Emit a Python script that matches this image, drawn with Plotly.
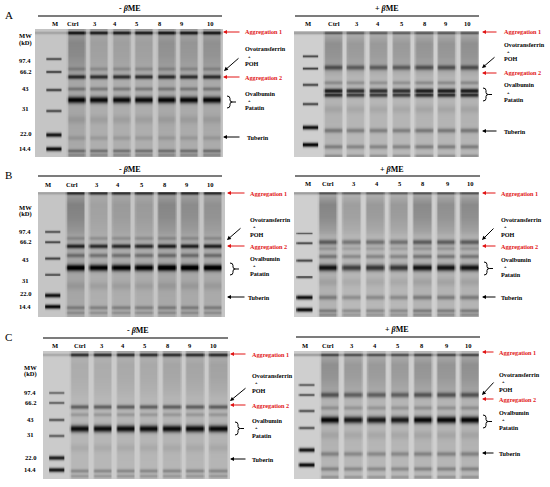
import numpy as np
import plotly.graph_objects as go

W, H = 550, 487
FONT = "Liberation Serif"

# ---------------- data ----------------
LANES = ["M", "Ctrl", "3", "4", "5", "8", "9", "10"]
MW_LABELS = ["97.4", "66.2", "43", "31", "22.0", "14.4"]
PANEL_LETTERS = ["A", "B", "C"]
BAND_NAMES = ["Aggregation 1", "Ovotransferrin", "+", "POH", "Aggregation 2",
              "Ovalbumin", "+", "Patatin", "Tuberin"]

# marker band relative migration (0 = top of gel, 1 = bottom)
MARKER_W = [0.007, 0.007, 0.008, 0.008, 0.012, 0.012]
AL_MARKER_RF = [0.227, 0.328, 0.469, 0.633, 0.820, 0.930]
AL_MARKER_DARK = [120, 135, 130, 120, 175, 185]
AR_MARKER_RF = [0.198, 0.294, 0.421, 0.579, 0.762, 0.897]
AR_MARKER_DARK = [130, 140, 130, 130, 190, 200]
BL_MARKER_RF = [0.312, 0.400, 0.528, 0.656, 0.824, 0.912]
BL_MARKER_DARK = [115, 125, 125, 115, 180, 190]
BR_MARKER_RF = [0.328, 0.408, 0.544, 0.680, 0.840, 0.936]
BR_MARKER_DARK = [130, 130, 130, 130, 190, 195]
CL_MARKER_RF = [0.320, 0.398, 0.531, 0.656, 0.828, 0.922]
CL_MARKER_DARK = [95, 105, 115, 105, 170, 180]
CR_MARKER_RF = [0.258, 0.336, 0.461, 0.594, 0.766, 0.883]
CR_MARKER_DARK = [110, 120, 120, 120, 185, 195]

# sample bands: position, darkness, thickness
AL_BAND_RF = [0.023, 0.305, 0.367, 0.461, 0.547, 0.700, 0.844, 0.945, 0.977]
AL_BAND_DARK = [110, 30, 125, 50, 165, 15, 20, 60, 35]
AL_BAND_W = [0.011, 0.011, 0.012, 0.011, 0.018, 0.022, 0.013, 0.010, 0.009]
AL_LANE_SMEAR = [45, 20, 20, 20, 35, 30, 35]
AL_LANE_GAIN = [1.0, 1.0, 1.0, 1.0, 1.0, 1.0, 1.0]

AR_BAND_RF = [0.016, 0.286, 0.405, 0.468, 0.508, 0.620, 0.786, 0.913, 0.984]
AR_BAND_DARK = [45, 85, 40, 150, 135, 15, 60, 55, 40]
AR_BAND_W = [0.008, 0.014, 0.011, 0.013, 0.013, 0.022, 0.013, 0.012, 0.009]
AR_LANE_SMEAR = [50, 40, 40, 40, 45, 45, 50]
AR_LANE_GAIN = [1.0, 0.9, 0.9, 0.9, 1.0, 1.0, 1.0]

BL_BAND_RF = [0.010, 0.370, 0.432, 0.504, 0.600, 0.750, 0.920, 0.960]
BL_BAND_DARK = [90, 30, 130, 60, 175, 15, 45, 30]
BL_BAND_W = [0.010, 0.011, 0.012, 0.012, 0.018, 0.022, 0.011, 0.009]
BL_LANE_SMEAR = [50, 18, 25, 25, 45, 40, 35]
BL_LANE_GAIN = [1.0, 1.0, 1.0, 1.0, 1.05, 1.05, 1.05]

BR_BAND_RF = [0.010, 0.400, 0.450, 0.512, 0.600, 0.720, 0.840, 0.944, 0.976]
BR_BAND_DARK = [50, 85, 30, 60, 160, 15, 55, 55, 40]
BR_BAND_W = [0.008, 0.014, 0.011, 0.012, 0.018, 0.022, 0.013, 0.011, 0.009]
BR_LANE_SMEAR = [60, 35, 40, 40, 55, 50, 55]
BR_LANE_GAIN = [1.0, 0.75, 0.8, 0.8, 1.0, 1.0, 1.0]

CL_BAND_RF = [0.023, 0.430, 0.490, 0.600, 0.750, 0.930, 0.970]
CL_BAND_DARK = [100, 85, 30, 170, 12, 45, 30]
CL_BAND_W = [0.011, 0.012, 0.011, 0.019, 0.022, 0.011, 0.009]
CL_LANE_SMEAR = [15, 15, 18, 18, 22, 22, 25]
CL_LANE_GAIN = [1.0, 1.0, 1.0, 1.0, 1.0, 1.0, 1.0]

CR_BAND_RF = [0.023, 0.336, 0.4375, 0.531, 0.650, 0.797, 0.914, 0.977]
CR_BAND_DARK = [55, 90, 35, 175, 15, 50, 50, 35]
CR_BAND_W = [0.009, 0.015, 0.012, 0.019, 0.022, 0.013, 0.012, 0.009]
CR_LANE_SMEAR = [50, 40, 40, 40, 45, 45, 50]
CR_LANE_GAIN = [1.0, 0.9, 0.9, 0.9, 1.0, 1.0, 1.0]

# background smear along each lane
SMEAR_RF = [0.0, 0.04, 0.10, 0.20, 0.30, 0.36, 0.50, 0.70, 1.0]
SMEAR_LEVEL = [0.0, 0.6, 1.0, 0.9, 0.6, 0.3, 0.25, 0.3, 0.2]


def gel_image(marker_rf, marker_dark, band_rf, band_dark, band_w,
              lane_smear, lane_gain, bg, base, topline, xr):
    xs = np.arange(xr[0], xr[1] + 1e-9, 0.05)
    ys = (np.arange(128) + 0.5) / 128
    X, Y = np.meshgrid(xs, ys)
    D = np.full(X.shape, float(bg))
    D += topline[1] * np.exp(-0.5 * ((Y - topline[0]) / 0.008) ** 2)
    m0 = np.clip((0.36 - np.abs(X)) / 0.06, 0, 1)
    mk = np.zeros_like(D)
    for r, d, w in zip(marker_rf, marker_dark, MARKER_W):
        mk += d * np.exp(-0.5 * ((Y - r) / w) ** 2)
    D += m0 * mk
    smear = np.interp(Y, SMEAR_RF, SMEAR_LEVEL)
    for j in range(7):
        c = j + 1
        m = np.clip((0.44 - np.abs(X - c)) / 0.10, 0, 1)
        bands = np.zeros_like(D)
        for r, d, w in zip(band_rf, band_dark, band_w):
            bands += d * np.exp(-0.5 * ((Y - r) / w) ** 2)
        D += m * (base + lane_smear[j] * smear + lane_gain[j] * bands)
    return xs, ys, np.clip(D, 0, 255).round().astype(int)


# ---------------- layout (pixel geometry) ----------------
GELS = [
    dict(rect=(35, 29, 223, 157), xr=(-0.82, 7.53),
         d=(AL_MARKER_RF, AL_MARKER_DARK, AL_BAND_RF, AL_BAND_DARK, AL_BAND_W, AL_LANE_SMEAR, AL_LANE_GAIN),
         bg=58, base=18, top=(0.023, 35)),
    dict(rect=(294, 31, 479, 157), xr=(-0.70, 7.44),
         d=(AR_MARKER_RF, AR_MARKER_DARK, AR_BAND_RF, AR_BAND_DARK, AR_BAND_W, AR_LANE_SMEAR, AR_LANE_GAIN),
         bg=48, base=14, top=(0.016, 50)),
    dict(rect=(38, 192, 225, 317), xr=(-0.61, 7.55),
         d=(BL_MARKER_RF, BL_MARKER_DARK, BL_BAND_RF, BL_BAND_DARK, BL_BAND_W, BL_LANE_SMEAR, BL_LANE_GAIN),
         bg=58, base=18, top=(0.010, 35)),
    dict(rect=(294, 192, 479, 317), xr=(-0.42, 7.42),
         d=(BR_MARKER_RF, BR_MARKER_DARK, BR_BAND_RF, BR_BAND_DARK, BR_BAND_W, BR_LANE_SMEAR, BR_LANE_GAIN),
         bg=48, base=14, top=(0.010, 50)),
    dict(rect=(43, 351, 230, 479), xr=(-0.56, 7.53),
         d=(CL_MARKER_RF, CL_MARKER_DARK, CL_BAND_RF, CL_BAND_DARK, CL_BAND_W, CL_LANE_SMEAR, CL_LANE_GAIN),
         bg=52, base=16, top=(0.023, 35)),
    dict(rect=(294, 351, 479, 479), xr=(-0.52, 7.42),
         d=(CR_MARKER_RF, CR_MARKER_DARK, CR_BAND_RF, CR_BAND_DARK, CR_BAND_W, CR_LANE_SMEAR, CR_LANE_GAIN),
         bg=48, base=14, top=(0.023, 50)),
]

fig = go.Figure()
layout_axes = {}
for i, g in enumerate(GELS):
    n = "" if i == 0 else str(i + 1)
    xs, ys, z = gel_image(*g["d"], g["bg"], g["base"], g["top"], g["xr"])
    fig.add_trace(go.Heatmap(
        x=xs, y=ys, z=z, zmin=0, zmax=255, showscale=False, zsmooth="best",
        colorscale=[[0, "rgb(255,255,255)"], [1, "rgb(0,0,0)"]],
        xaxis="x" + n, yaxis="y" + n, hoverinfo="skip"))
    x0, y0, x1, y1 = g["rect"]
    layout_axes["xaxis" + n] = dict(domain=[x0 / W, x1 / W], range=list(g["xr"]),
                                    visible=False, anchor="y" + n, fixedrange=True)
    layout_axes["yaxis" + n] = dict(domain=[1 - y1 / H, 1 - y0 / H], range=[1, 0],
                                    visible=False, anchor="x" + n, fixedrange=True)

ann = []
shapes = []


def P(x, y):
    return x / W, 1 - y / H


def txt(x, y, s, size=6, color="rgb(0,0,0)", xanchor="left", bold=True):
    px, py = P(x, y)
    ann.append(dict(x=px, y=py, xref="paper", yref="paper", text=("<b>%s</b>" % s) if bold else s,
                    showarrow=False, xanchor=xanchor, yanchor="middle",
                    font=dict(family=FONT, size=size, color=color)))


def arrow(hx, hy, tx, ty, color):
    px, py = P(hx, hy)
    ann.append(dict(x=px, y=py, xref="paper", yref="paper", text="", showarrow=True,
                    ax=tx - hx, ay=ty - hy, arrowhead=2, arrowsize=0.8, arrowwidth=1,
                    arrowcolor=color, standoff=0))


def brace(x, yt, yb):
    ym = (yt + yb) / 2
    pts = [("M", [(x, yt)]), ("Q", [(x + 3, yt), (x + 3, yt + 2.5)]), ("L", [(x + 3, ym - 2)]),
           ("Q", [(x + 3, ym), (x + 5.5, ym)]), ("Q", [(x + 3, ym), (x + 3, ym + 2)]),
           ("L", [(x + 3, yb - 2.5)]), ("Q", [(x + 3, yb), (x, yb)]),
           ("M", [(x + 5.5, ym)]), ("L", [(x + 9, ym)])]
    path = " ".join(cmd + " " + " ".join("%.5f,%.5f" % P(px, py) for px, py in p) for cmd, p in pts)
    shapes.append(dict(type="path", xref="paper", yref="paper", path=path,
                       line=dict(color="rgb(0,0,0)", width=1)))


RED = "rgb(225,20,20)"

# panel letters
for letter, y in zip(PANEL_LETTERS, [15, 175, 337]):
    txt(3, y, letter, size=11, bold=False)

# titles with rule lines
TITLES = [("- <i>β</i>ME", 130, 9, 38, 222, 16), ("+ <i>β</i>ME", 387, 9, 295, 479, 16),
          ("- <i>β</i>ME", 130, 169, 38, 222, 176), ("+ <i>β</i>ME", 392, 169, 295, 480, 176),
          ("- <i>β</i>ME", 138, 330, 43, 228, 338), ("+ <i>β</i>ME", 397, 329, 296, 480, 337)]
for s, tx, ty, lx0, lx1, ly in TITLES:
    txt(tx, ty, s, size=8, xanchor="center")
    a, b = P(lx0, ly)
    c, d = P(lx1, ly)
    shapes.append(dict(type="line", xref="paper", yref="paper", x0=a, y0=b, x1=c, y1=d,
                       line=dict(color="rgb(80,80,80)", width=1.5)))

# lane labels
LANE_LABEL_X = [[55, 73, 95, 115, 137, 160, 182, 210], [308, 334, 357, 378, 402, 425, 446, 467],
                [48, 72, 97, 118, 142, 165, 187, 210], [308, 328, 354, 377, 400, 423, 448, 470],
                [55, 80, 102, 123, 145, 168, 190, 213], [305, 328, 352, 375, 398, 422, 447, 468]]
LANE_LABEL_Y = [24, 24, 184, 183, 345, 345]
for xsl, yl in zip(LANE_LABEL_X, LANE_LABEL_Y):
    for lab, xl in zip(LANES, xsl):
        txt(xl, yl, lab, size=6.5, xanchor="center")

# MW labels
MW_POS = [(25, 35, 43, [60, 71, 88, 109, 133, 148]),
          (25, 207, 214, [231, 242, 259, 280, 293, 306]),
          (30, 367, 374, [392, 402, 419, 434, 457, 469])]
for mx, y_mw, y_kd, ys_ in MW_POS:
    txt(mx, y_mw, "MW", size=6.5, xanchor="center")
    txt(mx, y_kd, "(kD)", size=6.5, xanchor="center")
    for lab, yy in zip(MW_LABELS, ys_):
        txt(mx, yy, lab, size=6.5, xanchor="center")

# right-hand band annotations
SIDE = [
    (223, 241, 243, 32, (49, 56.5, 64), (224, 71, 240, 57), 77, (93, 100.5, 108), (227, 96, 108), 137, 245),
    (482, 498, 502, 32, (44, 51.5, 59), (482, 68, 496, 56), 73, (85, 92.5, 100), (483, 88, 101), 131, 502),
    (227, 246, 248, 193, (219, 226.5, 234), (227, 240, 242, 227), 246, (258, 265.5, 273), (230, 263, 275), 297, 246),
    (482, 497, 499, 193, (219, 226.5, 234), (482, 240, 495, 227), 246, (259, 266.5, 274), (484, 262, 275), 297, 499),
    (230, 247, 250, 354, (375, 382.5, 390), (230, 401, 247, 387), 405, (420, 427.5, 435), (235, 422, 435), 459, 250),
    (482, 495, 497, 352, (374, 381.5, 389), (482, 395, 495, 381), 399, (412, 419.5, 427), (483, 415, 428), 453, 497),
]
FS = 6.2
for hx, tx, xt, ag1, ovo, oa, ag2, oval, br, tub, tubx in SIDE:
    arrow(hx, ag1, tx, ag1, RED)
    txt(xt, ag1, BAND_NAMES[0], color=RED, size=FS)
    txt(xt, ovo[0], BAND_NAMES[1], size=FS)
    txt(xt + 3, ovo[1], BAND_NAMES[2], size=4.5)
    txt(xt, ovo[2], BAND_NAMES[3], size=FS)
    arrow(oa[0], oa[1], oa[2], oa[3], "rgb(0,0,0)")
    arrow(hx, ag2, tx, ag2, RED)
    txt(xt, ag2, BAND_NAMES[4], color=RED, size=FS)
    txt(xt, oval[0], BAND_NAMES[5], size=FS)
    txt(xt + 3, oval[1], BAND_NAMES[6], size=4.5)
    txt(xt, oval[2], BAND_NAMES[7], size=FS)
    brace(*br)
    arrow(hx, tub, tx, tub, "rgb(0,0,0)")
    txt(tubx, tub, BAND_NAMES[8], size=FS)

fig.update_layout(width=W, height=H, margin=dict(l=0, r=0, t=0, b=0),
                  paper_bgcolor="white", plot_bgcolor="white", showlegend=False,
                  annotations=ann, shapes=shapes, **layout_axes)
fig.write_html("out.html", config={"displayModeBar": False},
               post_script="document.body.style.margin='0';document.body.style.padding='0';"
                           "document.documentElement.style.overflow='hidden';")
